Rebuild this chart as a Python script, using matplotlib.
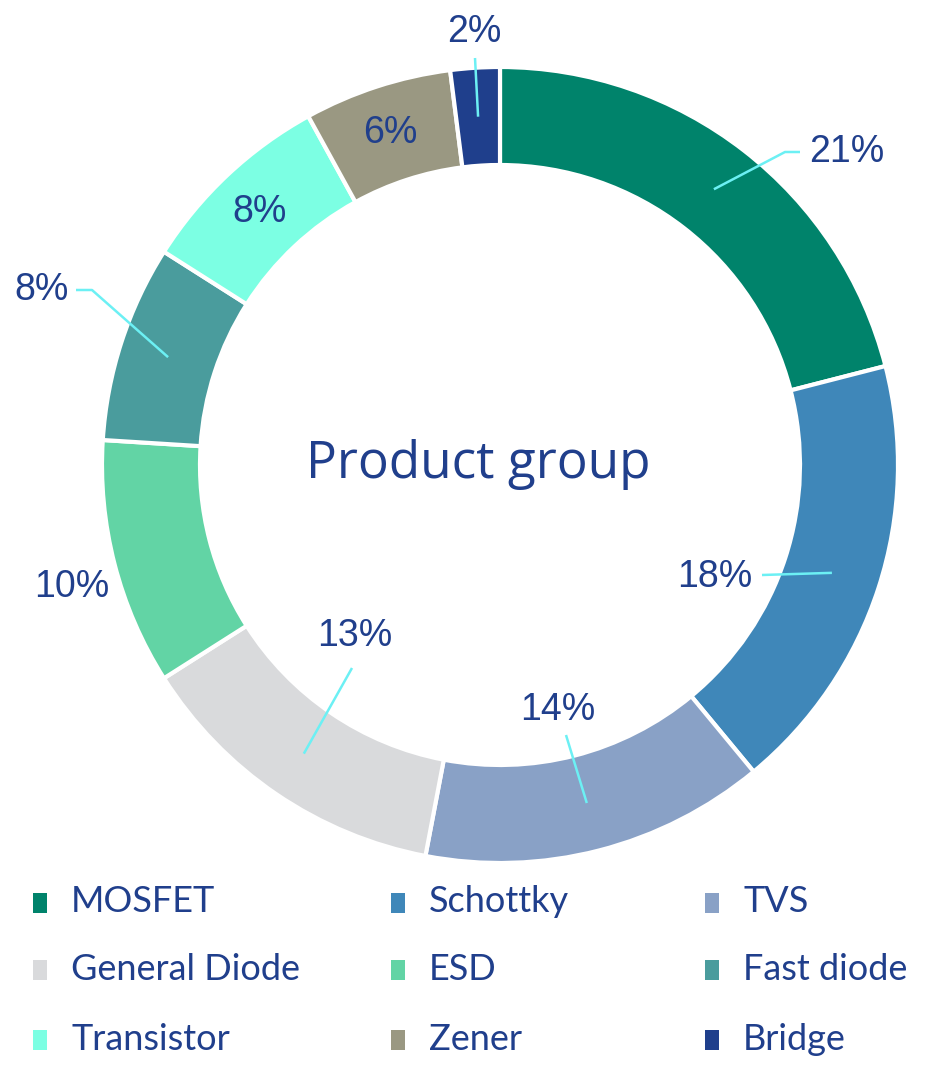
import numpy as np
import matplotlib
matplotlib.use("Agg")
import matplotlib.pyplot as plt
from matplotlib.patches import Rectangle

# chart data
categories = ["MOSFET", "Schottky", "TVS", "General Diode", "ESD",
              "Fast diode", "Transistor", "Zener", "Bridge"]
shares = [21, 18, 14, 13, 10, 8, 8, 6, 2]
colors = ["#00836b", "#3f87b9", "#89a1c6", "#d9dadc", "#62d4a5",
          "#4a9c9d", "#7cffe3", "#9a9882", "#1f3f8c"]
center_title = "Product group"

TEXT = "#203f8c"
LEADER = "#6cf0f4"

W, H = 938, 1066
fig = plt.figure(figsize=(W / 100, H / 100), dpi=100)
ax = fig.add_axes([0, 0, 1, 1])
ax.set_xlim(0, W)
ax.set_ylim(0, H)
ax.set_aspect("equal")
ax.axis("off")

cx, cy = 500, H - 465
R_out, ring = 398, 98

wedges, _ = ax.pie(shares, colors=colors, radius=R_out, center=(cx, cy),
                   startangle=90, counterclock=False,
                   wedgeprops=dict(width=ring, edgecolor="white", linewidth=3))
ax.set_xlim(0, W)
ax.set_ylim(0, H)

ax.text(cx - 22, cy, center_title, ha="center", va="center",
        fontsize=37, color=TEXT, family="Open Sans")

# label placement: (text x, text y from top), leader path or None
r_mid = R_out - ring / 2
label_pos = [
    ((847, 152), [(785, 152), (800, 152)]),
    ((715, 577), [(762, 575)]),
    ((558, 710), [(566, 735)]),
    ((355, 636), [(352, 668)]),
    ((72, 587), None),
    ((42, 290), [(92, 290), (76, 290)]),
    ((260, 212), None),
    ((390, 133), None),
    ((474, 32), [(475, 58)]),
]
for w, val, (tp, path) in zip(wedges, shares, label_pos):
    mid = np.deg2rad((w.theta1 + w.theta2) / 2)
    ax.text(tp[0], H - tp[1], f"{val}%", ha="center", va="center",
            fontsize=27, color=TEXT, family="Liberation Sans")
    if path:
        x0, y0 = cx + r_mid * np.cos(mid), cy + r_mid * np.sin(mid)
        xs = [x0] + [p[0] for p in path]
        ys = [y0] + [H - p[1] for p in path]
        ax.plot(xs, ys, color=LEADER, lw=1.8, solid_capstyle="butt")

# legend, 3 x 3 grid
col_x = [40, 398, 712]
row_y = [903, 970, 1040]
for i, (name, c) in enumerate(zip(categories, colors)):
    x, y = col_x[i % 3], H - row_y[i // 3]
    ax.add_patch(Rectangle((x - 7, y - 10), 14, 20, color=c, lw=0))
    ax.text(x + 31, y + 1, name, ha="left", va="center", fontsize=26,
            color=TEXT, family="Lato")

fig.savefig("out.png", dpi=100)
